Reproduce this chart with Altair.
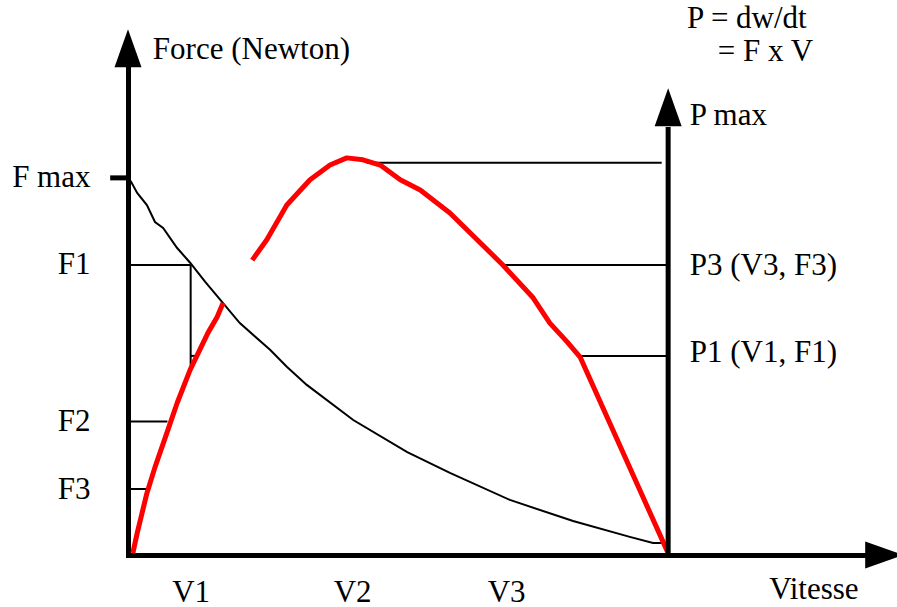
import altair as alt
import pandas as pd

# Speed in relative units (100 = speed at which the force vanishes),
# force and power in relative units on a shared vertical scale (100 = F max).

# Force-speed curve (black)
force_v = [0.0, 0.6, 1.7, 3.5, 5.0, 6.5, 9.1, 11.5, 14.3, 17.6, 20.7, 26.3,
           29.4, 33.1, 41.7, 51.7, 59.6, 70.7, 82.4, 92.9, 97.2, 100.0]
force_f = [100.0, 98.9, 96.0, 92.8, 88.3, 86.7, 81.4, 77.5, 72.4, 66.8, 61.5, 54.4,
           49.9, 45.1, 35.8, 27.3, 21.8, 14.6, 9.0, 4.8, 3.2, 3.2]

# Power-speed curve (red), drawn in two strokes
power_low_v = [0.9, 1.7, 3.5, 5.0, 7.2, 9.1, 11.5, 14.8, 16.5, 17.6]
power_low_p = [0.5, 5.8, 16.4, 23.3, 32.4, 40.3, 49.1, 58.9, 63.1, 66.8]
power_high_v = [23.0, 25.7, 29.4, 33.7, 37.4, 40.5, 43.5, 46.7, 50.4, 54.1, 59.6,
                69.4, 75.0, 78.1, 81.3, 83.7, 100.0]
power_high_p = [78.2, 83.6, 92.8, 99.5, 103.4, 105.3, 104.8, 103.4, 99.5, 96.8, 90.7,
                76.9, 68.2, 61.5, 56.5, 52.5, 0.5]

# Named levels
F_MAX, F1, F2, F3 = 100.0, 76.9, 35.4, 17.5
V1, V2, V3 = 11.6, 41.5, 70.0
P_MAX, P3, P1 = 104.0, 76.9, 52.8
V_MAX = 100.0

y_tick_values = [F_MAX, F1, F2, F3]
y_tick_labels = ["F max", "F1", "F2", "F3"]
x_tick_values = [V1, V2, V3]
x_tick_labels = ["V1", "V2", "V3"]

# Reading lines between the axes and the curves
seg_v0 = [0.0, V1, V1, 0.0, 0.0, 44.2, 69.4, 83.7]
seg_v1 = [V1, V1, 12.6, 7.3, 3.5, 98.8, V_MAX, V_MAX]
seg_y0 = [F1, F1, P1, F2, F3, P_MAX, P3, P1]
seg_y1 = [F1, 49.1, P1, F2, F3, P_MAX, P3, P1]

# Free text annotations
note_text = ["Force (Newton)", "P = dw/dt", "= F x V", "P max",
             "P3 (V3, F3)", "P1 (V1, F1)", "Vitesse"]
note_v = [4.6, 103.5, 109.2, 104.0, 104.0, 104.0, 118.7]
note_y = [131.6, 139.8, 131.0, 114.1, 74.3, 51.2, -11.7]

# Arrow heads of the three axes
arrow_v = [0.0, V_MAX, 140.0]
arrow_y = [134.4, 118.7, 0.0]
arrow_angle = [0, 0, 90]

FONT = "'Liberation Serif', 'Times New Roman', Times, 'DejaVu Serif', serif"
FS = 31

x_scale = alt.Scale(domain=[0, 137], nice=False, zero=False)
y_scale = alt.Scale(domain=[0, 129.4], nice=False, zero=False)


def label_expr(values, labels):
    expr = "''"
    for v, lab in zip(values, labels):
        expr = f"abs(datum.value - {v}) < 0.01 ? '{lab}' : ({expr})"
    return expr


x_axis = alt.Axis(values=x_tick_values, labelExpr=label_expr(x_tick_values, x_tick_labels),
                  title=None, ticks=False, grid=False, domainColor="black", domainWidth=5,
                  domainCap="square", labelFont=FONT, labelFontSize=FS, labelColor="black",
                  labelBaseline="alphabetic", labelPadding=46, labelFlush=False,
                  labelOverlap=False)
y_axis = alt.Axis(values=y_tick_values, labelExpr=label_expr(y_tick_values, y_tick_labels),
                  title=None, ticks=False, grid=False, domainColor="black", domainWidth=5,
                  domainCap="square", labelFont=FONT, labelFontSize=FS, labelColor="black",
                  labelAlign="right", labelBaseline="middle", labelPadding=38,
                  labelFlush=False, labelOverlap=False)

force_df = pd.DataFrame({"v": force_v, "y": force_f, "i": range(len(force_v))})
power_df = pd.concat([
    pd.DataFrame({"v": power_low_v, "y": power_low_p, "part": "a",
                  "i": range(len(power_low_v))}),
    pd.DataFrame({"v": power_high_v, "y": power_high_p, "part": "b",
                  "i": range(len(power_high_v))}),
])
seg_df = pd.DataFrame({"v0": seg_v0, "v1": seg_v1, "y0": seg_y0, "y1": seg_y1})
note_df = pd.DataFrame({"t": note_text, "v": note_v, "y": note_y})
arrow_df = pd.DataFrame({"v": arrow_v, "y": arrow_y, "a": arrow_angle})
axis_df = pd.DataFrame({"v0": [V_MAX, -3.3], "v1": [V_MAX, 0.0],
                        "y0": [0.0, F_MAX], "y1": [113.5, F_MAX]})

force = alt.Chart(force_df).mark_line(color="black", strokeWidth=2).encode(
    x=alt.X("v:Q", scale=x_scale, axis=x_axis),
    y=alt.Y("y:Q", scale=y_scale, axis=y_axis),
    order="i:Q",
)

segments = alt.Chart(seg_df).mark_rule(color="black", strokeWidth=2).encode(
    x=alt.X("v0:Q", scale=x_scale), x2="v1:Q",
    y=alt.Y("y0:Q", scale=y_scale), y2="y1:Q",
)

power = alt.Chart(power_df).mark_line(color="#ff0000", strokeWidth=5,
                                      strokeJoin="round").encode(
    x=alt.X("v:Q", scale=x_scale),
    y=alt.Y("y:Q", scale=y_scale),
    detail="part:N",
    order="i:Q",
)

axes_extra = alt.Chart(axis_df).mark_rule(color="black", strokeWidth=5).encode(
    x=alt.X("v0:Q", scale=x_scale), x2="v1:Q",
    y=alt.Y("y0:Q", scale=y_scale), y2="y1:Q",
)

arrows = alt.Chart(arrow_df).mark_point(
    shape="M0,-1L0.71,1L-0.71,1Z", size=1444, filled=True, color="black",
    opacity=1, strokeWidth=0,
).encode(
    x=alt.X("v:Q", scale=x_scale),
    y=alt.Y("y:Q", scale=y_scale),
    angle=alt.Angle("a:Q", scale=None),
)

notes = alt.Chart(note_df).mark_text(
    align="left", baseline="alphabetic", font=FONT, fontSize=FS, color="black",
).encode(
    x=alt.X("v:Q", scale=x_scale),
    y=alt.Y("y:Q", scale=y_scale),
    text="t:N",
)

chart = alt.layer(segments, force, power, axes_extra, arrows, notes).properties(
    width=740, height=488,
    padding={"left": 128, "top": 67, "right": 29, "bottom": 52},
    autosize=alt.AutoSizeParams(type="none"),
    background="white",
).configure_view(stroke=None)

chart.save("out.html", embed_options={"renderer": "svg", "actions": False})
